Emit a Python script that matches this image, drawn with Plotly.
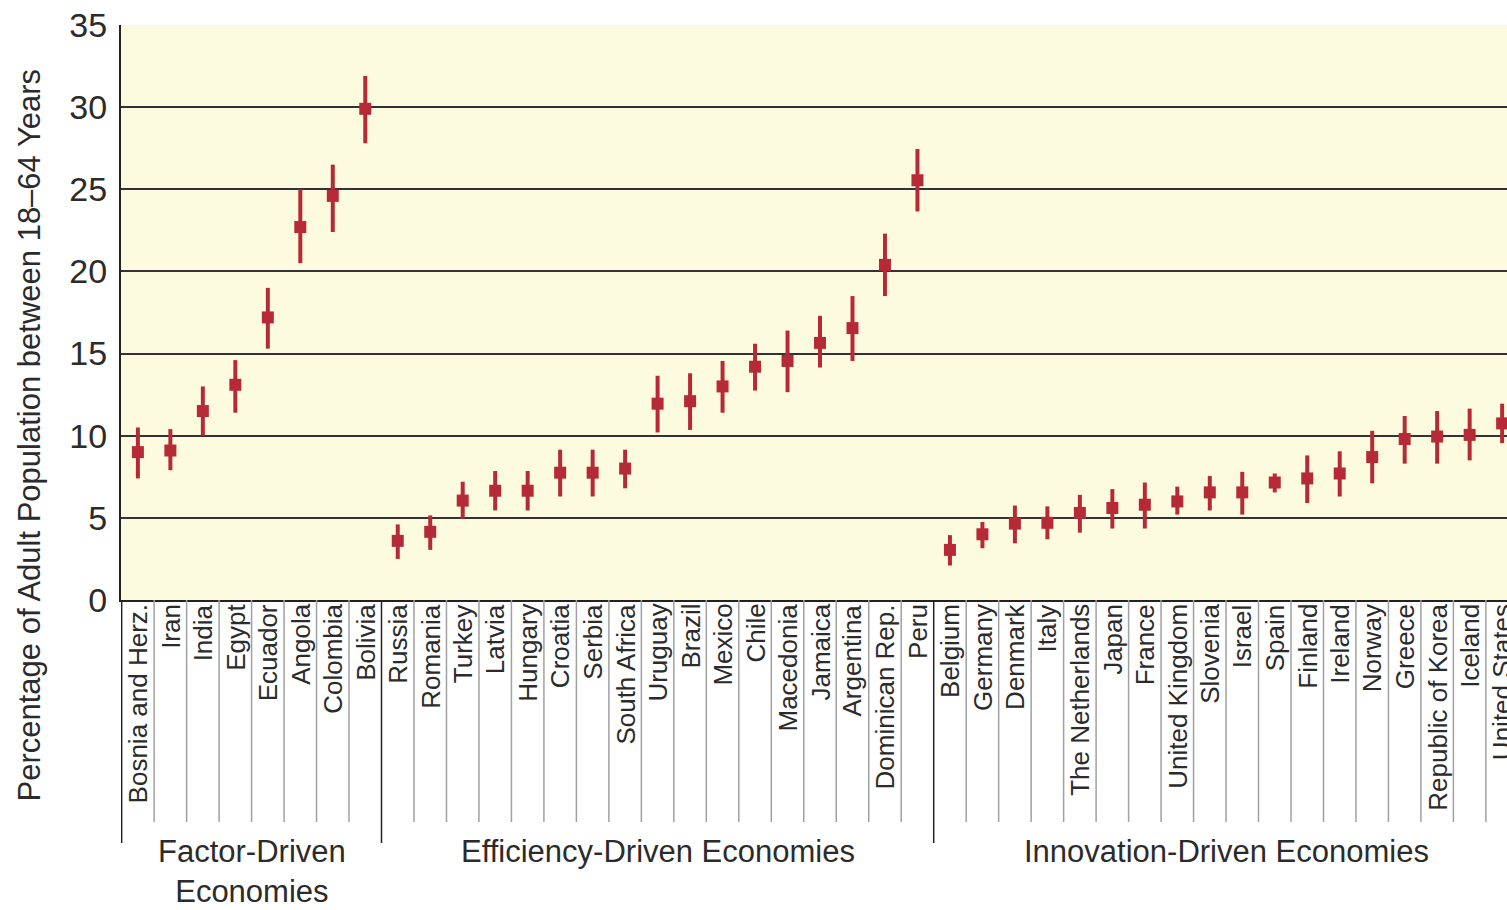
import plotly.graph_objects as go

# ---------------- data ----------------
factor_names = ["Bosnia and Herz.", "Iran", "India", "Egypt", "Ecuador", "Angola", "Colombia", "Bolivia"]
factor_value = [9.0, 9.1, 11.5, 13.1, 17.2, 22.7, 24.6, 29.9]
factor_upper = [10.5, 10.4, 13.0, 14.6, 19.0, 25.0, 26.5, 31.9]
factor_lower = [7.4, 7.9, 10.0, 11.4, 15.3, 20.5, 22.4, 27.8]

efficiency_names = ["Russia", "Romania", "Turkey", "Latvia", "Hungary", "Croatia", "Serbia",
                    "South Africa", "Uruguay", "Brazil", "Mexico", "Chile", "Macedonia",
                    "Jamaica", "Argentina", "Dominican Rep.", "Peru"]
efficiency_value = [3.6, 4.15, 6.05, 6.65, 6.65, 7.75, 7.75, 8.0, 11.95, 12.1, 13.0, 14.2, 14.55,
                    15.65, 16.55, 20.4, 25.55]
efficiency_upper = [4.6, 5.15, 7.2, 7.85, 7.85, 9.15, 9.15, 9.15, 13.65, 13.8, 14.55, 15.6, 16.4,
                    17.3, 18.5, 22.3, 27.45]
efficiency_lower = [2.5, 3.05, 4.95, 5.45, 5.45, 6.3, 6.3, 6.8, 10.2, 10.35, 11.4, 12.75, 12.65,
                    14.15, 14.55, 18.5, 23.65]

innovation_names = ["Belgium", "Germany", "Denmark", "Italy", "The Netherlands", "Japan", "France",
                    "United Kingdom", "Slovenia", "Israel", "Spain", "Finland", "Ireland", "Norway",
                    "Greece", "Republic of Korea", "Iceland", "United States"]
innovation_value = [3.05, 4.0, 4.65, 4.7, 5.3, 5.6, 5.8, 6.0, 6.55, 6.55, 7.15, 7.4, 7.7, 8.7,
                    9.8, 9.95, 10.05, 10.75]
innovation_upper = [3.95, 4.75, 5.75, 5.7, 6.4, 6.75, 7.15, 6.9, 7.55, 7.8, 7.7, 8.8, 9.05, 10.3,
                    11.2, 11.5, 11.65, 11.95]
innovation_lower = [2.1, 3.15, 3.45, 3.7, 4.1, 4.35, 4.35, 5.2, 5.45, 5.2, 6.55, 5.9, 6.3, 7.1,
                    8.3, 8.3, 8.5, 9.55]

group_labels = ["Factor-Driven<br>Economies", "Efficiency-Driven Economies", "Innovation-Driven Economies"]
y_ticks = [0, 5, 10, 15, 20, 25, 30, 35]
y_title = "Percentage of Adult Population between 18\u201364 Years"

# ---------------- build ----------------
names = factor_names + efficiency_names + innovation_names
values = factor_value + efficiency_value + innovation_value
upper = factor_upper + efficiency_upper + innovation_upper
lower = factor_lower + efficiency_lower + innovation_lower
xs = list(range(len(names)))
err_plus = [u - v for u, v in zip(upper, values)]
err_minus = [v - l for v, l in zip(values, lower)]

FONT = "Liberation Sans, Arial, sans-serif"
TXT = "#2b2b2b"
RED = "#b52a36"

fig = go.Figure()
fig.add_trace(go.Scatter(
    x=xs, y=values, mode="markers",
    marker=dict(symbol="square", size=12, color=RED),
    error_y=dict(type="data", array=err_plus, arrayminus=err_minus, symmetric=False,
                 color=RED, thickness=4, width=0),
    showlegend=False, hoverinfo="skip",
))

PH = 575.0  # plot height in px
def py(px_below):  # pixel offset below plot bottom -> paper y
    return -px_below / PH

shapes = []
n = len(names)
b1 = len(factor_names) - 0.5
b2 = len(factor_names) + len(efficiency_names) - 0.5
for i in range(n - 1):
    xb = i + 0.5
    if xb in (b1, b2):
        continue
    shapes.append(dict(type="line", xref="x", yref="paper", x0=xb, x1=xb, y0=0, y1=py(222),
                       line=dict(color="#a0a0a0", width=1.5), layer="above"))
for xb in (-0.5, b1, b2):
    shapes.append(dict(type="line", xref="x", yref="paper", x0=xb, x1=xb, y0=0, y1=py(243),
                       line=dict(color="#222", width=1.5), layer="above"))

annotations = []
for i, nm in enumerate(names):
    annotations.append(dict(x=i, y=py(2), xref="x", yref="paper", text=nm, textangle=-90,
                            showarrow=False, xanchor="center", yanchor="top",
                            font=dict(family=FONT, size=26, color=TXT)))
centers = [(-0.5 + b1) / 2, (b1 + b2) / 2, (b2 + n - 0.5) / 2]
for c, lab in zip(centers, group_labels):
    annotations.append(dict(x=c, y=py(232), xref="x", yref="paper", text=lab, showarrow=False,
                            xanchor="center", yanchor="top",
                            font=dict(family=FONT, size=31, color=TXT)))
annotations.append(dict(x=-0.066, y=0.287, xref="paper", yref="paper", text=y_title,
                        textangle=-90, showarrow=False, xanchor="center", yanchor="middle",
                        font=dict(family=FONT, size=31, color=TXT)))

fig.update_layout(
    width=1507, height=910,
    margin=dict(l=121, r=0, t=25, b=310),
    paper_bgcolor="white", plot_bgcolor="#fdfbdf",
    shapes=shapes, annotations=annotations,
    xaxis=dict(range=[-0.52, 42.15], showticklabels=False, showgrid=False, zeroline=False,
               showline=True, linecolor="#222", linewidth=2, ticks=""),
    yaxis=dict(range=[0, 35], tickvals=y_ticks, showgrid=True, gridcolor="#333", gridwidth=1.5,
               zeroline=False, showline=True, linecolor="#222", linewidth=2, ticks="",
               ticklabelstandoff=5,
               tickfont=dict(family=FONT, size=34, color=TXT)),
)

fig.write_html("out.html")
